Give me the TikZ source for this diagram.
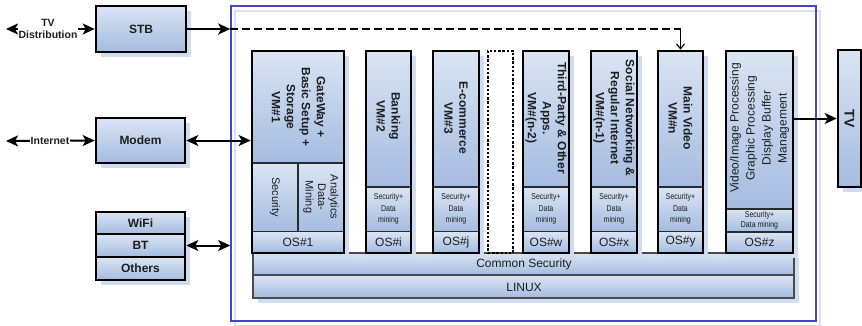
\documentclass[tikz,border=0pt]{standalone}
\usepackage{fontspec}
\setmainfont{Liberation Sans}
\newfontfamily\narrowsf{Liberation Sans}[FakeStretch=0.82]
\usetikzlibrary{arrows.meta,fit,calc,shadows}
\definecolor{celltop}{HTML}{DAE4F3}
\definecolor{cellbot}{HTML}{A4BCE0}
\definecolor{shadowc}{HTML}{D0DCEF}
\definecolor{frameblue}{HTML}{4848BE}
\definecolor{frameshadow}{HTML}{DCDEF2}
\definecolor{innerline}{HTML}{2A2A2A}
\definecolor{barline}{HTML}{4A4A4A}
\definecolor{txt}{HTML}{1E1E1E}
\tikzset{
  cellshade/.style={top color=celltop, bottom color=cellbot},
  vmframe/.style={draw=black, line width=2.6, inner sep=0},
  innerrule/.style={draw=innerline, line width=1.3},
  lbox/.style={draw=black, line width=2.6, top color=celltop, bottom color=cellbot,
    inner sep=0, font=\fontsize{12}{14}\selectfont\bfseries, text=txt,
    drop shadow={shadow xshift=5pt, shadow yshift=-5pt, fill=shadowc, opacity=1}},
  vmtitle/.style={rotate=-90, font=\fontsize{12}{15}\selectfont\bfseries, align=center, inner sep=0, text=txt},
  sectext/.style={font=\narrowsf\fontsize{8.5}{11.5}\selectfont, align=center, inner sep=0, text=txt},
  oslabel/.style={font=\fontsize{12}{14}\selectfont, inner sep=0, text=txt},
  tipb/.tip={Stealth[length=12pt,width=11pt,inset=3pt]},
  arr/.style={line width=2, -tipb},
  darr/.style={line width=2, tipb-tipb},
  dashline/.style={line width=1.4, dash pattern=on 8pt off 4pt},
  thinarr/.style={line width=1.1, -{Straight Barb[length=5pt,width=8pt]}},
  onlinelabel/.style={fill=white, inner sep=1pt, font=\fontsize{10.5}{12}\selectfont\bfseries, align=center, text=txt},
}
% #1 name, #2 left x, #3 right x, #4 y of top of the security row
\newcommand\vmstack[4]{%
  \fill[shadowc] (#2+5,56) rectangle (#3+5,258);
  \shade[cellshade] (#2,51) rectangle (#3,#4);
  \shade[cellshade] (#2,#4) rectangle (#3,231.5);
  \shade[cellshade] (#2,231.5) rectangle (#3,253);
  \draw[innerrule] (#2,#4) -- (#3,#4) (#2,231.5) -- (#3,231.5);
  \node[vmframe, fit={(#2,51)(#3,253)}] (#1) {};
}
\begin{document}
\begin{tikzpicture}[x=1pt,y=-1pt]
\useasboundingbox (0,0) rectangle (862,325);
% outer frame
\draw[frameshadow, line width=1.5] (235,11) rectangle (820,326);
\node[draw=frameblue, line width=1.6, inner sep=0, fit={(231,6)(816,321)}] (outer) {};

% left boxes
\node[lbox, minimum width=90, minimum height=46] (stb) at (141,29) {STB};
\node[lbox, minimum width=89, minimum height=45] (modem) at (140.5,140.5) {Modem};
\node[lbox, minimum width=89, minimum height=22] (wifi) at (140.5,223) {WiFi};
\node[lbox, minimum width=89, minimum height=23] (bt) at (140.5,245.5) {BT};
\node[lbox, minimum width=89, minimum height=23] (others) at (140.5,268.5) {Others};

% common security / linux bars
\fill[shadowc] (258,258) rectangle (799,303);
\shade[cellshade] (253,253) rectangle (794,275);
\shade[cellshade] (253,275) rectangle (794,298);
\node[draw=barline, line width=1.3, inner sep=0, fit={(253,253)(794,275)}] (csec) {};
\node[draw=barline, line width=1.3, inner sep=0, fit={(253,275)(794,298)}] (linux) {};
\node[oslabel] (cseclbl) at (524,264) {Common Security};
\node[oslabel] (linuxlbl) at (524,287) {LINUX};

% VM1
\fill[shadowc] (257,56) rectangle (349,258);
\shade[cellshade] (252,51) rectangle (344,163);
\shade[cellshade] (252,163) rectangle (298,231.5);
\shade[cellshade] (298,163) rectangle (344,231.5);
\shade[cellshade] (252,231.5) rectangle (344,253);
\draw[innerrule] (252,163) -- (344,163) (298,163) -- (298,231.5) (252,231.5) -- (344,231.5);
\node[vmframe, fit={(252,51)(344,253)}] (vm1) {};
\node[vmtitle] (vm1t) at (298.5,107) {GateWay +\\Basic Setup +\\Storage\\VM\#1};
\node[rotate=-90, font=\fontsize{11}{12.5}\selectfont, inner sep=0, text=txt] (vm1s) at (275,197) {Security};
\node[rotate=-90, font=\fontsize{11}{12.5}\selectfont, align=center, inner sep=0, text=txt] (vm1a) at (321,197) {Analytics\\Data-\\Mining};
\node[oslabel] (os1) at (298,242) {OS\#1};

% VM2 .. VMy
\vmstack{vm2}{366}{411}{187}
\vmstack{vm3}{433}{479}{187}
\vmstack{vmw}{523}{569}{187}
\vmstack{vmx}{591}{637}{187}
\vmstack{vmy}{658}{703}{187}
\node[vmtitle] (vm2t) at (388.5,116) {Banking\\VM\#2};
\node[vmtitle] (vm3t) at (456,118) {E-commerce\\VM\#3};
\node[vmtitle] (vmwt) at (546,118) {Third-Party \& Other\\Apps.\\VM\#(n-2)};
\node[vmtitle] (vmxt) at (614,118) {Social Networking \&\\Regular Internet\\VM\#(n-1)};
\node[vmtitle] (vmyt) at (680.5,118) {Main Video\\VM\#n};
\foreach \n/\cx/\os in {vm2/388.5/i, vm3/456/j, vmw/546/w, vmx/614/x, vmy/680.5/y}{
  \node[sectext] (\n sec) at (\cx,209) {Security+\\Data\\mining};
  \node[oslabel] (\n os) at (\cx,242) {OS\#\os};
}

% dotted placeholder
\node[draw=black, line width=2.6, dash pattern=on 2.4pt off 1.8pt, inner sep=0, fit={(488,51)(513,253)}] (vmdots) {};

% VMz
\fill[shadowc] (731,56) rectangle (798,258);
\shade[cellshade] (726,51) rectangle (793,209);
\shade[cellshade] (726,209) rectangle (793,232);
\shade[cellshade] (726,232) rectangle (793,253);
\draw[innerrule] (726,209) -- (793,209) (726,232) -- (793,232);
\node[vmframe, fit={(726,51)(793,253)}] (vmz) {};
\node[rotate=90, font=\fontsize{12}{16}\selectfont, align=center, inner sep=0, text=txt] (vmzt) at (759.5,128) {Video/Image Processing\\Graphic Processing\\Display Buffer\\Management};
\node[sectext, font=\narrowsf\fontsize{8.5}{10.5}\selectfont] (vmzsec) at (759.5,220.5) {Security+\\Data mining};
\node[oslabel] (vmzos) at (759.5,242.5) {OS\#z};

% TV
\node[lbox, minimum width=23, minimum height=137] (tv) at (849.5,118.5) {};
\node[rotate=-90, font=\fontsize{14}{16}\selectfont\bfseries, inner sep=0, text=txt] (tvlbl) at (tv.center) {TV};

% connectors
\coordinate (tvdsrc) at (6,29);
\coordinate (netsrc) at (6,141);
\draw[darr] (tvdsrc) -- (stb.west);
\node[onlinelabel] (tvdl) at (48,29) {TV\\Distribution};
\draw[darr] (netsrc) -- (modem.west);
\node[onlinelabel] (netl) at (50,141) {Internet};
\draw[arr] (stb.east) -- (stb.east -| outer.west);
\draw[dashline] (stb.east -| outer.west) -- (stb.east -| vmy.north);
\draw[thinarr] (stb.east -| vmy.north) -- (vmy.north);
\draw[darr] (modem.east) -- (modem.east -| vm1.west);
\draw[darr] (bt.east) -- (bt.east -| outer.west);
\draw[arr] (tv.west -| vmz.east) -- (tv.west);
\end{tikzpicture}
\end{document}
